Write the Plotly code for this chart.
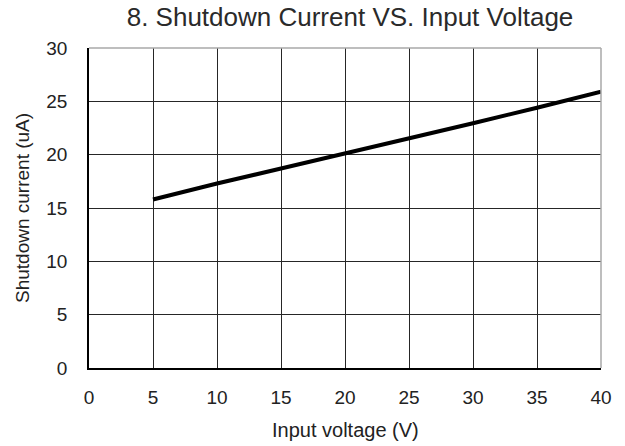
import plotly.graph_objects as go

input_voltage = [5, 10, 15, 20, 25, 30, 35, 40]
shutdown_current = [15.8, 17.3, 18.7, 20.1, 21.5, 22.95, 24.4, 25.9]
x_ticks = [0, 5, 10, 15, 20, 25, 30, 35, 40]
y_ticks = [0, 5, 10, 15, 20, 25, 30]

FONT = "Liberation Sans, Arial, sans-serif"
GRID = "#262626"
W, H = 625, 446

fig = go.Figure()
fig.add_trace(go.Scatter(x=input_voltage, y=shutdown_current, mode="lines",
                         line=dict(color="black", width=4), showlegend=False,
                         hoverinfo="skip"))

fig.update_layout(
    width=W, height=H,
    margin=dict(l=89, r=24, t=48, b=78),
    paper_bgcolor="white", plot_bgcolor="white",
    title=dict(text="8. Shutdown Current VS. Input Voltage",
               font=dict(family=FONT, size=26, color="#2a2a2a"),
               x=350/W, xanchor="center", xref="container",
               y=1-17/H, yanchor="middle", yref="container"),
    font=dict(family=FONT, color="#222"),
)
fig.update_xaxes(range=[0, 40], tickvals=x_ticks, ticktext=[str(v) for v in x_ticks],
                 showgrid=True, gridcolor=GRID, gridwidth=1.4,
                 showline=True, linecolor="black", linewidth=1.5,
                 zeroline=False, ticks="", ticklabelstandoff=11,
                 tickfont=dict(family=FONT, size=19, color="#222"), fixedrange=True)
fig.update_yaxes(range=[0, 30], tickvals=y_ticks, ticktext=[str(v) for v in y_ticks],
                 showgrid=True, gridcolor=GRID, gridwidth=1.4,
                 showline=True, linecolor="black", linewidth=1.5,
                 zeroline=False, ticks="", ticklabelstandoff=16,
                 tickfont=dict(family=FONT, size=19, color="#222"), fixedrange=True)

# light grey top and right borders
fig.add_shape(type="line", xref="paper", yref="paper", x0=0, x1=1, y0=1, y1=1,
              line=dict(color="#a8a8a8", width=1.5), layer="above")
fig.add_shape(type="line", xref="paper", yref="paper", x0=1, x1=1, y0=0, y1=1,
              line=dict(color="#a8a8a8", width=1.5), layer="above")

fig.add_annotation(text="Input voltage (V)", xref="paper", yref="paper",
                   x=0.5, y=-62/320, xanchor="center", yanchor="middle",
                   showarrow=False, font=dict(family=FONT, size=20, color="#222"))
fig.add_annotation(text="Shutdown current (uA)", xref="paper", yref="paper",
                   x=-67/512, y=0.5, xanchor="center", yanchor="middle", textangle=-90,
                   showarrow=False, font=dict(family=FONT, size=19, color="#222"))

fig.write_html("out.html", config={"displayModeBar": False},
               post_script="document.body.style.margin='0';")
